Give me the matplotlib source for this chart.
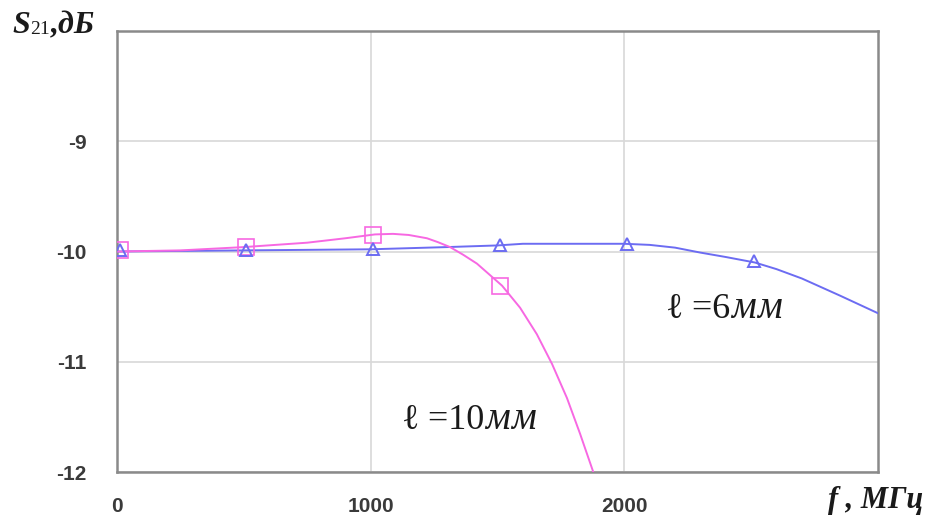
import matplotlib
matplotlib.use('Agg')
import matplotlib.pyplot as plt
from matplotlib.transforms import IdentityTransform

plt.rcParams['axes.unicode_minus'] = False

# measured points (MHz, dB)
freq_6mm = [10, 510, 1010, 1510, 2010, 2510]
s21_6mm = [-9.99, -9.99, -9.98, -9.945, -9.93, -10.09]
freq_10mm = [10, 510, 1010, 1510]
s21_10mm = [-9.99, -9.96, -9.85, -10.31]

# smoothed response curves
curve_f_6mm = [0, 250, 500, 750, 1000, 1300, 1500, 1600, 1800, 2000, 2100, 2200, 2300, 2400, 2515,
               2600, 2700, 2850, 3000]
curve_s_6mm = [-10.0, -9.995, -9.99, -9.985, -9.98, -9.96, -9.945, -9.93, -9.93, -9.93, -9.94,
               -9.965, -10.01, -10.05, -10.1, -10.16, -10.245, -10.4, -10.56]
curve_f_10mm = [0, 250, 500, 750, 900, 1017, 1088, 1150, 1222, 1265, 1313, 1365, 1419, 1518,
                1589, 1655, 1715, 1774, 1825, 1876, 1882]
curve_s_10mm = [-10.0, -9.99, -9.96, -9.92, -9.88, -9.845, -9.84, -9.85, -9.88, -9.915, -9.96,
                -10.03, -10.11, -10.31, -10.51, -10.75, -11.02, -11.33, -11.65, -11.99, -12.03]

x_ticks = [0, 1000, 2000]
y_ticks = [-12, -11, -10, -9]

blue = '#6c6cf2'
pink = '#f768e2'
W, H = 933, 525

fig = plt.figure(figsize=(W / 100, H / 100), dpi=100)
ax = fig.add_axes([117 / W, 1 - 472 / H, (878 - 117) / W, (472 - 31) / H])

ax.plot(curve_f_6mm, curve_s_6mm, color=blue, lw=1.4, zorder=3)
ax.plot(curve_f_10mm, curve_s_10mm, color=pink, lw=1.4, zorder=3)
ax.plot(freq_10mm, s21_10mm, ls='none', marker='s', ms=11, mfc='none', mec=pink, mew=1.2, zorder=4)
ax.plot(freq_6mm, s21_6mm, ls='none', marker='^', ms=9, mfc='none', mec=blue, mew=1.4, zorder=5)

ax.set_xlim(0, 3000)
ax.set_ylim(-12, -8)
ax.set_xticks(x_ticks)
ax.set_yticks(y_ticks)
ax.grid(True, color='#d8d8d8', lw=1.2)
ax.set_axisbelow(True)
ax.tick_params(length=0, labelsize=15, labelcolor='#3a3a3a')
ax.tick_params(axis='y', pad=22)
ax.tick_params(axis='x', pad=18)
for lab in ax.get_xticklabels() + ax.get_yticklabels():
    lab.set_fontweight('bold')
    lab.set_family('Liberation Sans')
for sp in ax.spines.values():
    sp.set_color('#8a8a8a')
    sp.set_linewidth(1.8)

serif = ['Liberation Serif', 'DejaVu Serif']
renderer = fig.canvas.get_renderer()


def draw_runs(x, y, runs):
    # lay out text pieces one after another, y is the baseline from the top
    for s, kw in runs:
        kw = dict(kw)
        dy = kw.pop('dy', 0)
        gap = kw.pop('gap', 0)
        t = fig.text(x, H - y + dy, s, transform=IdentityTransform(), va='baseline',
                     family=serif, color='#1a1a1a', **kw)
        x = t.get_window_extent(renderer).x1 + gap


head = dict(size=23, style='italic', weight='bold')
draw_runs(12, 33, [('S', head),
                   ('21', dict(size=14, dy=-1, gap=1)),
                   (',дБ', head)])

lab = dict(size=26)
mm = dict(size=28, style='italic', gap=1)
draw_runs(666, 318, [('ℓ', lab), (' =6', dict(lab, gap=1)), ('м', mm), ('м', mm)])
draw_runs(402, 429, [('ℓ', lab), (' =10', dict(lab, gap=1)), ('м', mm), ('м', mm)])

draw_runs(828, 508, [('f', dict(head, size=22)), (' , МГц', dict(head, size=22))])

fig.savefig('out.png', dpi=100)
